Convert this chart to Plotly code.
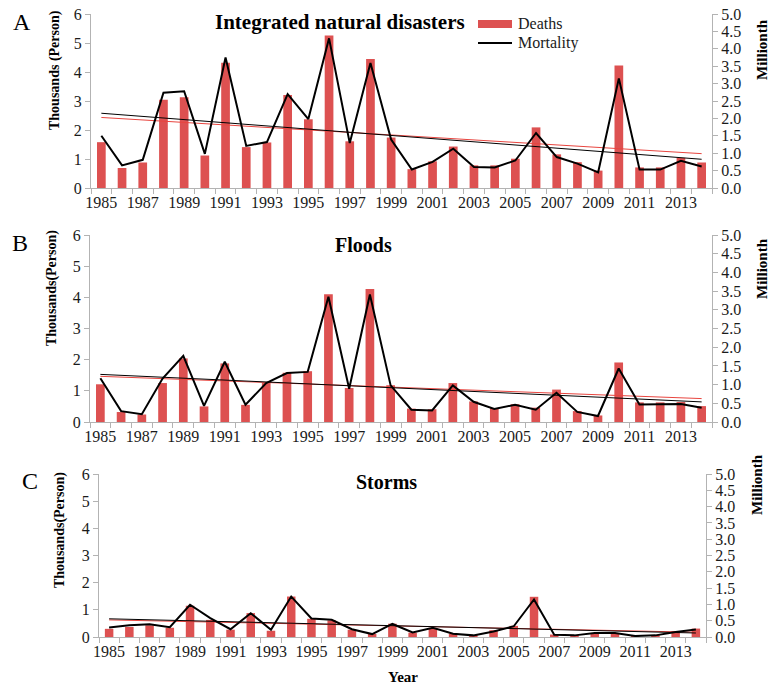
import numpy as np
import plotly.graph_objects as go

years = [str(y) for y in range(1985, 2015)]

# Panel A: Integrated natural disasters
deaths_a = [1.58, 0.69, 0.88, 3.04, 3.13, 1.12, 4.32, 1.41, 1.57, 3.21,
            2.37, 5.26, 1.61, 4.45, 1.74, 0.65, 0.92, 1.43, 0.78, 0.78,
            1.01, 2.09, 1.16, 0.89, 0.60, 4.22, 0.71, 0.71, 1.04, 0.88]
mort_a = [1.50, 0.65, 0.81, 2.74, 2.78, 0.98, 3.75, 1.21, 1.32, 2.70,
          1.98, 4.30, 1.29, 3.59, 1.39, 0.53, 0.75, 1.13, 0.60, 0.59,
          0.79, 1.58, 0.89, 0.70, 0.45, 3.15, 0.53, 0.53, 0.78, 0.62]

# Panel B: Floods
deaths_b = [1.21, 0.32, 0.24, 1.25, 2.04, 0.50, 1.88, 0.55, 1.25, 1.58,
            1.63, 4.10, 1.09, 4.27, 1.18, 0.43, 0.41, 1.25, 0.66, 0.45,
            0.57, 0.46, 1.04, 0.35, 0.21, 1.91, 0.63, 0.63, 0.64, 0.51]
mort_b = [1.17, 0.29, 0.21, 1.16, 1.77, 0.43, 1.61, 0.46, 1.04, 1.31,
          1.34, 3.35, 0.89, 3.41, 0.98, 0.33, 0.31, 0.98, 0.54, 0.35,
          0.46, 0.33, 0.78, 0.27, 0.16, 1.43, 0.47, 0.47, 0.48, 0.38]

# Panel C: Storms
deaths_c = [0.30, 0.37, 0.43, 0.34, 1.15, 0.63, 0.27, 0.88, 0.23, 1.49,
            0.67, 0.61, 0.27, 0.11, 0.49, 0.16, 0.32, 0.12, 0.06, 0.25,
            0.41, 1.48, 0.09, 0.04, 0.15, 0.12, 0.03, 0.06, 0.22, 0.31]
mort_c = [0.29, 0.36, 0.39, 0.30, 0.99, 0.58, 0.24, 0.73, 0.22, 1.24,
          0.57, 0.53, 0.24, 0.09, 0.40, 0.14, 0.28, 0.10, 0.05, 0.17,
          0.33, 1.15, 0.07, 0.05, 0.12, 0.12, 0.03, 0.05, 0.15, 0.23]

titles = ["Integrated natural disasters", "Floods", "Storms"]
panel_letters = ["A", "B", "C"]
left_titles = ["Thousands (Person)", "Thousands(Person)", "Thousands(Person)"]
right_title = "Millionth"
x_title = "Year"
legend_names = ["Deaths", "Mortality"]

W, H = 771, 686
FONT = "Liberation Serif"
BAR_COLOR = "#DD5151"
AX_COLOR = "#B3B3B3"

def fx(px):
    return px / W

def fy(py):
    return 1 - py / H

# panel geometry (pixels)
panels = [
    dict(x0=91, x1=712, y0=14, y1=188),
    dict(x0=90, x1=712, y0=235, y1=422),
    dict(x0=99, x1=706, y0=474, y1=637),
]

fig = go.Figure()
idx = np.arange(len(years))
data = [(deaths_a, mort_a), (deaths_b, mort_b), (deaths_c, mort_c)]

for i, (d, m) in enumerate(data):
    n = i + 1
    xa = "x" if n == 1 else f"x{n}"
    yl = "y" if n == 1 else f"y{2*n-1}"
    yr = f"y{2*n}"
    fig.add_trace(go.Bar(x=years, y=d, xaxis=xa, yaxis=yl, name=legend_names[0],
                         marker=dict(color=BAR_COLOR, line=dict(width=0)),
                         showlegend=False))
    fig.add_trace(go.Scatter(x=years, y=m, xaxis=xa, yaxis=yr, name=legend_names[1],
                             mode="lines", line=dict(color="black", width=2),
                             showlegend=False))
    # linear trend lines
    cd = np.polyfit(idx, d, 1)
    cm = np.polyfit(idx, m, 1)
    fig.add_trace(go.Scatter(x=years, y=np.polyval(cd, idx), xaxis=xa, yaxis=yl,
                             mode="lines", line=dict(color="#E8453F", width=1),
                             showlegend=False))
    fig.add_trace(go.Scatter(x=years, y=np.polyval(cm, idx), xaxis=xa, yaxis=yr,
                             mode="lines", line=dict(color="black", width=1),
                             showlegend=False))

tickfont = dict(family=FONT, size=16, color="#1a1a1a")
layout = dict(
    width=W, height=H,
    margin=dict(l=0, r=0, t=0, b=0, pad=0, autoexpand=False),
    paper_bgcolor="white", plot_bgcolor="white",
    bargap=0.58,
    showlegend=False,
)

for i, p in enumerate(panels):
    n = i + 1
    xk = "xaxis" if n == 1 else f"xaxis{n}"
    ylk = "yaxis" if n == 1 else f"yaxis{2*n-1}"
    yrk = f"yaxis{2*n}"
    yl = "y" if n == 1 else f"y{2*n-1}"
    xa = "x" if n == 1 else f"x{n}"
    layout[xk] = dict(domain=[fx(p["x0"]), fx(p["x1"])], anchor=yl, type="category",
                      range=[-0.5, len(years) - 0.5], tickson="boundaries",
                      ticks="outside", ticklen=5, tickcolor=AX_COLOR,
                      ticklabelstep=2, showline=True, linecolor=AX_COLOR, linewidth=1,
                      showgrid=False, tickfont=tickfont, tickangle=0, fixedrange=True,
                      automargin=False)
    layout[ylk] = dict(domain=[fy(p["y1"]), fy(p["y0"])], anchor=xa, range=[0, 6],
                       dtick=1, ticks="outside", ticklen=5, tickcolor=AX_COLOR,
                       showline=True, linecolor=AX_COLOR, linewidth=1, showgrid=False,
                       zeroline=False, tickfont=tickfont, automargin=False)
    layout[yrk] = dict(overlaying=yl, side="right", anchor=xa, range=[0, 5],
                       dtick=0.5, tickformat=".1f", ticks="outside", ticklen=5,
                       tickcolor=AX_COLOR, showline=True, linecolor=AX_COLOR,
                       linewidth=1, showgrid=False, zeroline=False, tickfont=tickfont,
                       automargin=False)

fig.update_layout(**layout)

ann = []
title_pos = [(340, 22), (363, 245), (386, 482)]
title_size = [21, 20, 20]
letter_pos = [(22, 22), (20, 243), (30, 481)]
lt_pos = [(55, 70), (52, 288), (60, 530)]
rt_pos = [(762, 50), (762, 269), (757, 485)]
for i in range(3):
    ann.append(dict(text=f"<b>{titles[i]}</b>", x=fx(title_pos[i][0]), y=fy(title_pos[i][1]),
                    xref="paper", yref="paper", showarrow=False, xanchor="center", yanchor="middle",
                    font=dict(family=FONT, size=title_size[i], color="black")))
    ann.append(dict(text=panel_letters[i], x=fx(letter_pos[i][0]), y=fy(letter_pos[i][1]),
                    xref="paper", yref="paper", showarrow=False, xanchor="center", yanchor="middle",
                    font=dict(family=FONT, size=24, color="black")))
    ann.append(dict(text=f"<b>{left_titles[i]}</b>", x=fx(lt_pos[i][0]), y=fy(lt_pos[i][1]),
                    xref="paper", yref="paper", showarrow=False, xanchor="center", yanchor="middle",
                    textangle=-90, font=dict(family=FONT, size=14, color="black")))
    ann.append(dict(text=f"<b>{right_title}</b>", x=fx(rt_pos[i][0]), y=fy(rt_pos[i][1]),
                    xref="paper", yref="paper", showarrow=False, xanchor="center", yanchor="middle",
                    textangle=-90, font=dict(family=FONT, size=15, color="black")))
ann.append(dict(text=f"<b>{x_title}</b>", x=fx(403), y=fy(677), xref="paper", yref="paper",
                showarrow=False, xanchor="center", yanchor="middle",
                font=dict(family=FONT, size=15, color="black")))

# custom legend (Excel style: wide red box and line sample)
leg_y = [24, 43]
for name, yy in zip(legend_names, leg_y):
    ann.append(dict(text=name, x=fx(516), y=fy(yy), xref="paper", yref="paper",
                    showarrow=False, xanchor="left", yanchor="middle",
                    font=dict(family=FONT, size=16, color="#1a1a1a")))
shapes = [
    dict(type="rect", xref="paper", yref="paper", x0=fx(478), x1=fx(512),
         y0=fy(28), y1=fy(20), fillcolor=BAR_COLOR, line=dict(width=0)),
    dict(type="line", xref="paper", yref="paper", x0=fx(478), x1=fx(512),
         y0=fy(43), y1=fy(43), line=dict(color="black", width=2)),
]
fig.update_layout(annotations=ann, shapes=shapes)

fig.write_html("out.html", config={"displayModeBar": False},
               post_script="document.body.style.margin='0';document.body.style.overflow='hidden';")
